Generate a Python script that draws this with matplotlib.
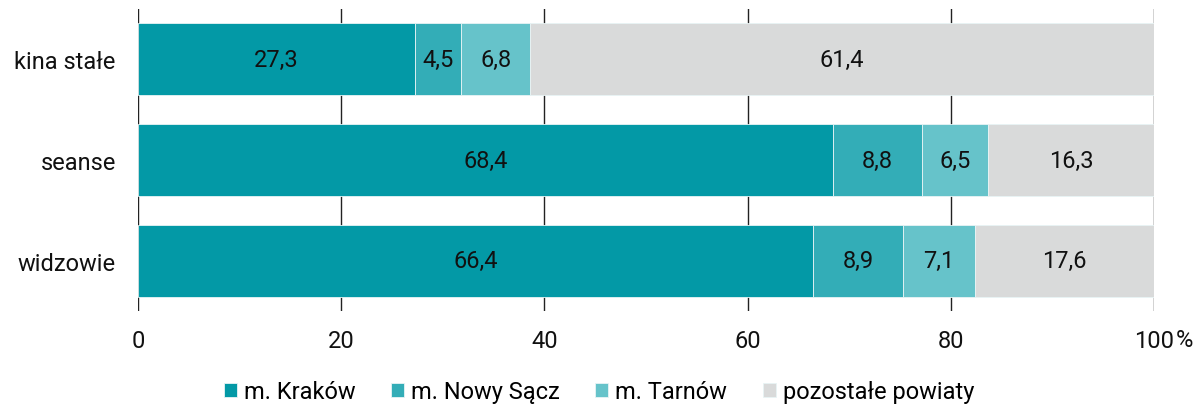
import matplotlib
matplotlib.use("Agg")
import matplotlib.pyplot as plt
import numpy as np

categories = ["kina stałe", "seanse", "widzowie"]
series_names = ["m. Kraków", "m. Nowy Sącz", "m. Tarnów", "pozostałe powiaty"]
krakow = [27.3, 68.4, 66.4]
nowy_sacz = [4.5, 8.8, 8.9]
tarnow = [6.8, 6.5, 7.1]
pozostale = [61.4, 16.3, 17.6]
x_ticks = [0, 20, 40, 60, 80, 100]
x_tick_labels = ["0", "20", "40", "60", "80", "100"]

colors = ["#0399A6", "#33ADB7", "#66C3CA", "#D9DADA"]

plt.rcParams['font.family'] = ['Roboto', 'DejaVu Sans']
FS = 17

fig = plt.figure(figsize=(11.98, 4.06), dpi=100)
ax = fig.add_axes([138/1198, 1 - 312/406, (1154-138)/1198, 302/406])

y = np.arange(len(categories))
left = np.zeros(len(categories))
for vals, name, c in zip([krakow, nowy_sacz, tarnow, pozostale], series_names, colors):
    vals = np.array(vals)
    ax.barh(y, vals, left=left, height=0.713, color=c, label=name,
            edgecolor="#e8f4f5", linewidth=0.6, zorder=3)
    for yi, l, v in zip(y, left, vals):
        ax.text(l + v/2, yi, f"{v:.1f}".replace(".", ","), ha="center", va="center",
                fontsize=FS, color="#111111", zorder=4)
    left += vals

ax.set_xlim(0, 100)
ax.set_ylim(2.5, -0.5)
ax.set_yticks(y)
ax.set_yticklabels(categories, fontsize=FS)
ax.set_xticks(x_ticks)
ax.set_xticklabels(x_tick_labels, fontsize=FS)
ax.tick_params(axis="both", length=0, colors="#111111")
ax.tick_params(axis="x", pad=13)
ax.tick_params(axis="y", pad=16)
for s in ax.spines.values():
    s.set_visible(False)
ax.grid(axis="x", color="#222222", linewidth=1, zorder=0)
ax.annotate("%", xy=(100, 0), xycoords=ax.get_xaxis_transform(),
            xytext=(22, -29), textcoords="offset pixels", fontsize=FS,
            ha="left", va="center", color="#111111")

leg = fig.legend(loc="center", bbox_to_anchor=(0.5, 1 - 393/406), ncol=4, frameon=False,
                 fontsize=FS, handlelength=0.55, handleheight=0.55, handletextpad=0.3,
                 columnspacing=1.5)

fig.savefig("out.png", dpi=100)
